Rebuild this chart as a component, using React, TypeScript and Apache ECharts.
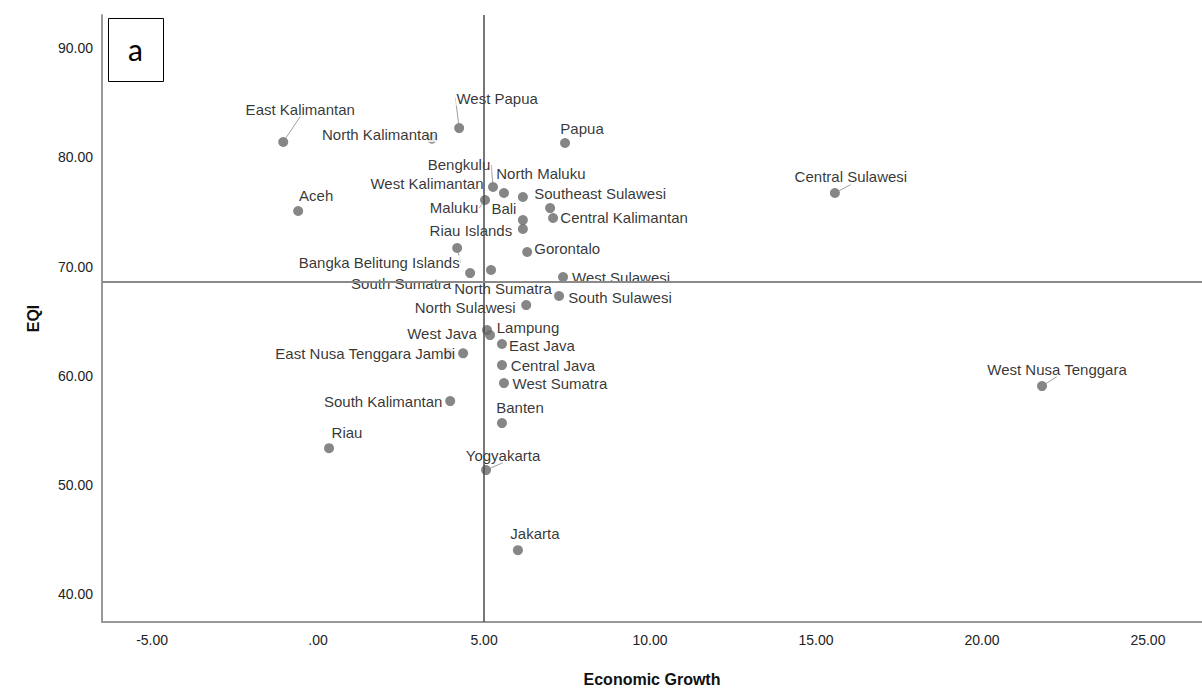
import React, { useEffect, useRef } from "react";
import * as echarts from "echarts";

// ---- data ----
const provinces = [
  "East Kalimantan", "West Papua", "North Kalimantan", "Papua", "Central Sulawesi",
  "West Nusa Tenggara", "Aceh", "Bengkulu", "West Kalimantan", "North Maluku",
  "Southeast Sulawesi", "Maluku", "Bali", "Riau Islands", "Central Kalimantan",
  "Gorontalo", "Bangka Belitung Islands", "South Sumatra", "North Sumatra", "West Sulawesi",
  "South Sulawesi", "North Sulawesi", "West Java", "Lampung", "East Java",
  "East Nusa Tenggara", "Jambi", "Central Java", "West Sumatra", "South Kalimantan",
  "Banten", "Riau", "Yogyakarta", "Jakarta",
];
const economicGrowth = [
  -1.05, 4.25, 3.43, 7.44, 15.57,
  21.81, -0.60, 5.27, 5.60, 6.17,
  6.99, 5.03, 6.17, 6.17, 7.08,
  6.30, 4.19, 4.58, 5.21, 7.38,
  7.26, 6.27, 5.09, 5.18, 5.54,
  3.92, 4.37, 5.54, 5.60, 3.98,
  5.54, 0.33, 5.06, 6.02,
];
const eqi = [
  81.41, 82.69, 81.72, 81.32, 76.74,
  59.05, 75.09, 77.29, 76.74, 76.37,
  75.36, 76.10, 74.26, 73.44, 74.45,
  71.33, 71.70, 69.40, 69.68, 69.04,
  67.30, 66.47, 64.18, 63.72, 62.90,
  62.07, 62.05, 60.97, 59.32, 57.67,
  55.66, 53.36, 51.35, 44.01,
];
const meanGrowth = 4.98;
const meanEqi = 68.61;
const xTicks = [-5, 0, 5, 10, 15, 20, 25];
const yTicks = [40, 50, 60, 70, 80, 90];
const xTitle = "Economic Growth";
const yTitle = "EQI";
const panelLetter = "a";

// ---- label placement (pixel offsets of label centre from its point) ----
const labelOffsets: Record<string, [number, number]> = {
  "East Kalimantan": [17, -33],
  "West Papua": [38, -30],
  "North Kalimantan": [-52, -4],
  "Papua": [17, -15],
  "Central Sulawesi": [16, -16],
  "West Nusa Tenggara": [15, -17],
  "Aceh": [18, -16],
  "Bengkulu": [-34, -22],
  "West Kalimantan": [-77, -9],
  "North Maluku": [18, -24],
  "Southeast Sulawesi": [50, -15],
  "Maluku": [-31, 8],
  "Bali": [-19, -12],
  "Riau Islands": [-52, 1],
  "Central Kalimantan": [71, 0],
  "Gorontalo": [40, -4],
  "Bangka Belitung Islands": [-78, 15],
  "South Sumatra": [-69, 10],
  "North Sumatra": [12, 18],
  "West Sulawesi": [58, 0],
  "South Sulawesi": [61, 1],
  "North Sulawesi": [-61, 2],
  "West Java": [-45, 3],
  "Lampung": [38, -8],
  "East Java": [40, 1],
  "East Nusa Tenggara": [-105, 0],
  "Jambi": [-28, 0],
  "Central Java": [51, 0],
  "West Sumatra": [56, 0],
  "South Kalimantan": [-67, 0],
  "Banten": [18, -16],
  "Riau": [18, -16],
  "Yogyakarta": [17, -15],
  "Jakarta": [17, -17],
};
const withLeader = new Set([
  "East Kalimantan", "West Papua", "Bengkulu", "Central Sulawesi",
  "West Nusa Tenggara", "Yogyakarta", "Bangka Belitung Islands", "Maluku",
]);

const FONT = "'Liberation Sans', Arial, sans-serif";

function fmt(v: number): string {
  if (v === 0) return ".00";
  return v.toFixed(2);
}

export default function App() {
  const ref = useRef<HTMLDivElement>(null);

  useEffect(() => {
    if (!ref.current) return;
    const chart = echarts.init(ref.current, null, { renderer: "svg" });

    const data = provinces.map((name, i) => ({
      name,
      value: [economicGrowth[i], eqi[i]],
      labelLine: { show: withLeader.has(name) },
    }));

    chart.setOption({
      animation: false,
      backgroundColor: "#ffffff",
      grid: {
        left: 102, right: 0, top: 15, bottom: 67,
        containLabel: false,
        outerBoundsMode: "none",
      },
      xAxis: {
        type: "value",
        min: -6.51,
        max: 26.63,
        name: xTitle,
        nameLocation: "middle",
        nameGap: 49,
        nameTextStyle: { fontFamily: FONT, fontSize: 16, fontWeight: "bold", color: "#111" },
        axisLine: { show: true, onZero: false, lineStyle: { color: "#999", width: 2 } },
        axisTick: { show: false },
        splitLine: { show: false },
        axisLabel: {
          customValues: xTicks,
          formatter: (v: number) => fmt(v),
          fontFamily: FONT,
          fontSize: 14,
          color: "#222",
          margin: 11,
          showMinLabel: true,
          showMaxLabel: true,
        },
      },
      yAxis: {
        type: "value",
        min: 37.43,
        max: 93.05,
        name: yTitle,
        nameLocation: "middle",
        nameGap: 61,
        nameTextStyle: { fontFamily: FONT, fontSize: 16, fontWeight: "bold", color: "#111" },
        axisLine: { show: true, onZero: false, lineStyle: { color: "#999", width: 2 } },
        axisTick: { show: false },
        splitLine: { show: false },
        axisLabel: {
          customValues: yTicks,
          formatter: (v: number) => fmt(v),
          fontFamily: FONT,
          fontSize: 14,
          color: "#222",
          margin: 9,
        },
      },
      series: [
        {
          type: "scatter",
          z: 2,
          symbol: "circle",
          symbolSize: 10,
          itemStyle: { color: "#686868" },
          label: {
            show: true,
            position: [5, 5],
            align: "center",
            verticalAlign: "middle",
            formatter: "{b}",
            fontFamily: FONT,
            fontSize: 15,
            color: "#000000",
            textBorderWidth: 0,
            backgroundColor: "#ffffff",
            padding: [0, 1],
          },
          labelLine: {
            show: false,
            lineStyle: { color: "#a0a0a0", width: 1 },
          },
          labelLayout: (params: any) => {
            const name = provinces[params.dataIndex];
            const o = labelOffsets[name] || [0, -15];
            return { dx: o[0], dy: o[1] };
          },
          emphasis: { disabled: true },
          data,
          markLine: {
            silent: true,
            symbol: "none",
            label: { show: false },
            animation: false,
            data: [
              { xAxis: meanGrowth, lineStyle: { color: "#4a4a4a", width: 1.5, type: "solid" } },
              { yAxis: meanEqi, lineStyle: { color: "#8a8a8a", width: 2, type: "solid" } },
            ],
          },
        },
      ],
      graphic: [
        {
          type: "rect",
          left: 108,
          top: 18,
          shape: { width: 55, height: 63 },
          style: { fill: "#ffffff", stroke: "#000000", lineWidth: 1 },
          z: 10,
        },
        {
          type: "text",
          x: 135.5,
          y: 49,
          style: {
            text: panelLetter,
            fontFamily: "Lato, 'Open Sans', sans-serif",
            fontSize: 30,
            fill: "#000",
            align: "center",
            verticalAlign: "middle",
          },
          z: 11,
        },
      ],
    });

    return () => chart.dispose();
  }, []);

  return (
    <div
      ref={ref}
      style={{ position: "fixed", left: 0, top: 0, width: 1202, height: 689, background: "#fff" }}
    />
  );
}
